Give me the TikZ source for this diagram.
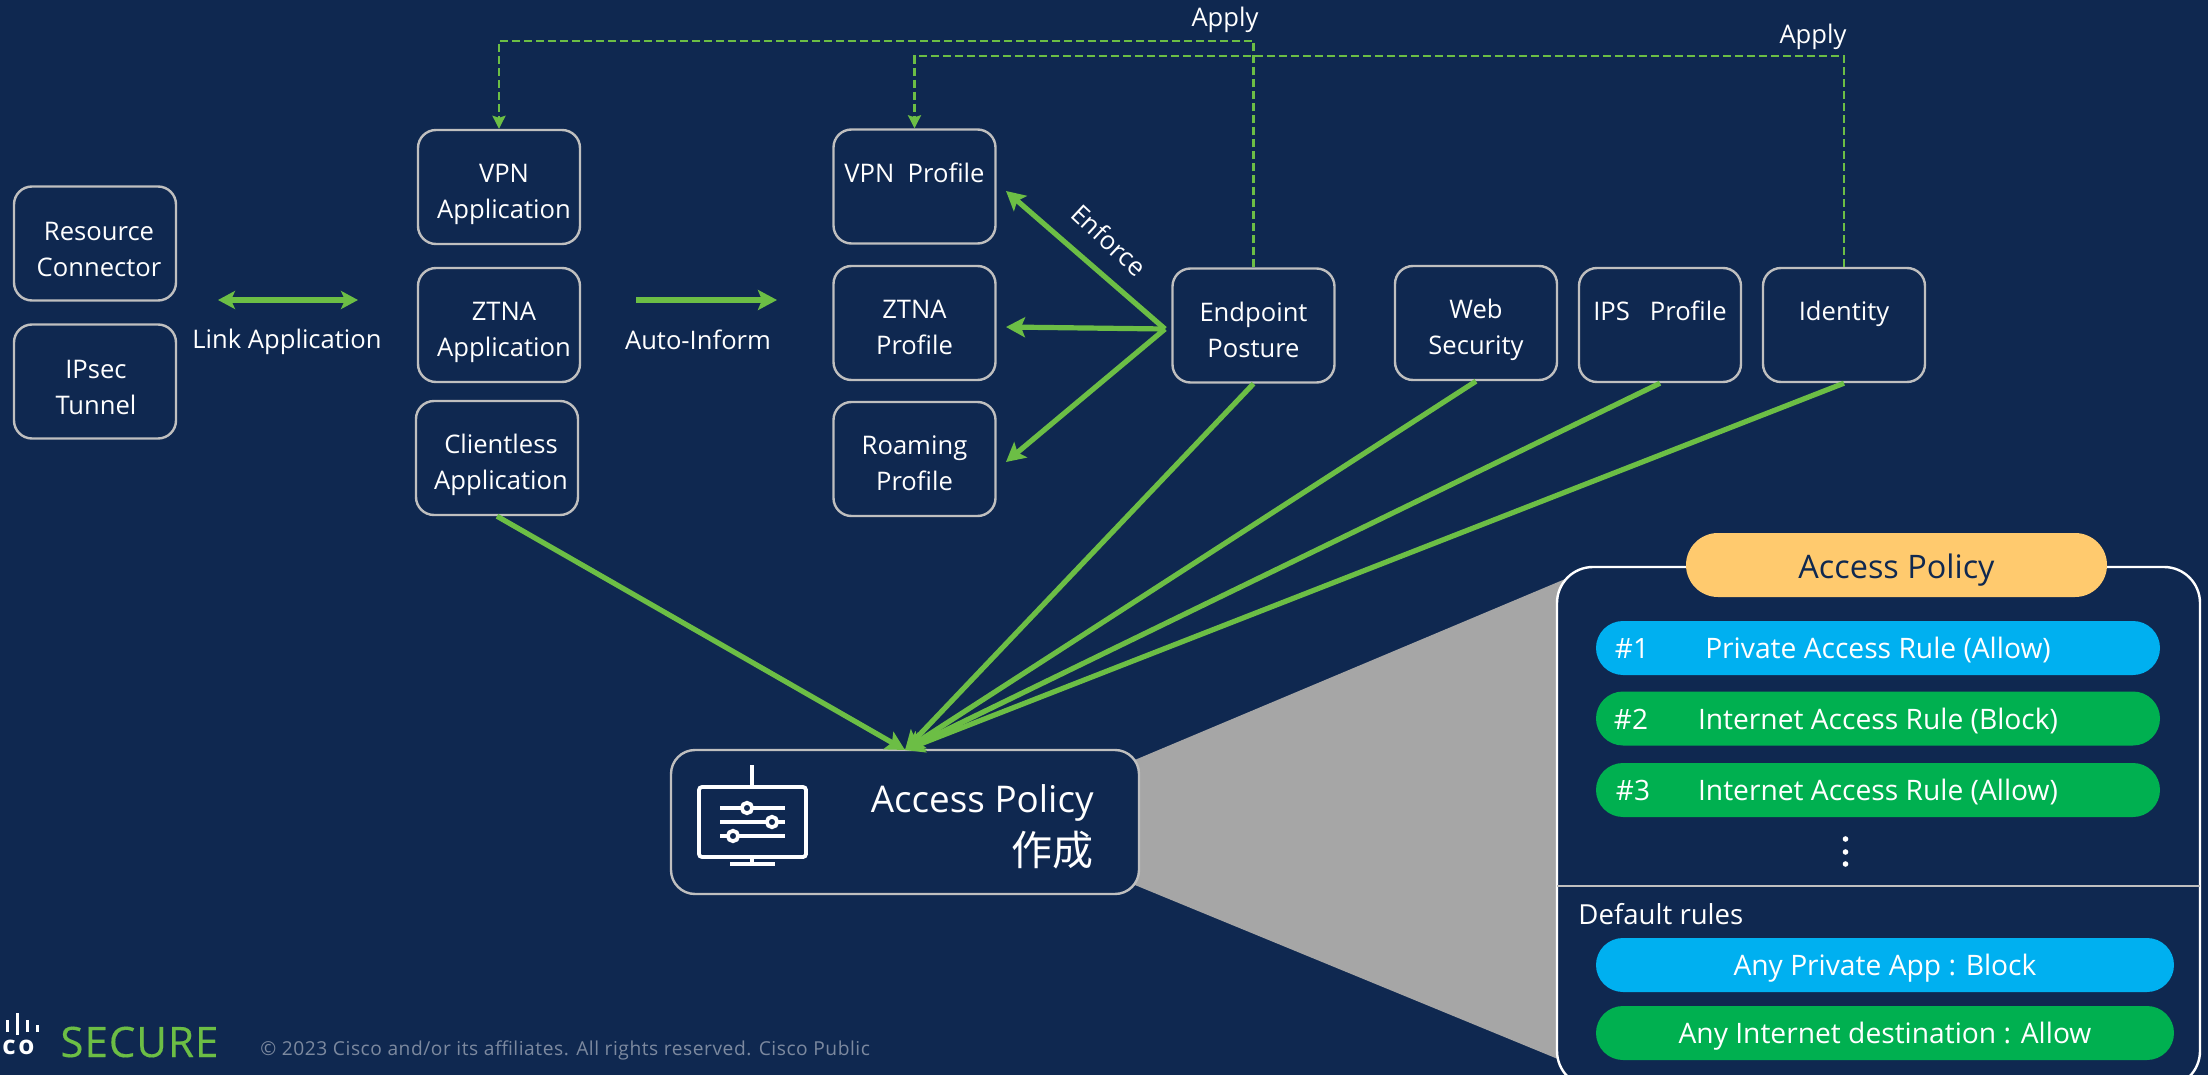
\documentclass[tikz,border=0pt]{standalone}
\usepackage{xcolor}
\usepackage{fontspec}
\setmainfont{Open Sans}
\newfontfamily\cjkfont{Noto Sans CJK JP}
\usetikzlibrary{arrows.meta}
\usetikzlibrary{positioning, calc}
\definecolor{slide blue}{HTML}{0F2850}
\definecolor{line green}{HTML}{6CBE45}
\definecolor{box gray}{HTML}{BFBFBF}
\definecolor{cone gray}{HTML}{A6A6A6}
\definecolor{rule blue}{HTML}{00B0F0}
\definecolor{rule green}{HTML}{00B050}
\definecolor{title yellow}{HTML}{FFCA6E}
\definecolor{note gray}{HTML}{7C899F}
\newcommand{\nudge}[1]{\hspace*{#1pt}}
\tikzset{
item box/.style = { rectangle, draw = box gray, fill = slide blue, line width = 1.2pt, text = white, align = center, minimum width = 81pt, minimum height = 57pt, rounded corners = 9pt, inner sep = 0pt, font = \fontsize{12.8}{18}\selectfont, execute at begin node = {\rule{0pt}{#1}} },
item box/.default = 32pt,
plain label/.style = { text = white, inner sep = 0pt, font = \fontsize{12.8}{18}\selectfont },
rule pill/.style = { rectangle, fill = #1, text = white, minimum height = 27pt, rounded corners = 13.5pt, inner sep = 0pt, text height = 12pt, text depth = 1.5pt, font = \fontsize{14.1}{18}\selectfont },
flow arrow/.style = { draw = line green, line width = 2.6pt, -{Stealth[length = 9.5pt, width = 10pt, inset = 2pt]} },
both arrow/.style = { draw = line green, line width = 2.6pt, {Stealth[length = 8.5pt, width = 9pt, inset = 2pt]}-{Stealth[length = 8.5pt, width = 9pt, inset = 2pt]} },
apply line/.style = { draw = line green, line width = 1.3pt, dash pattern = on 4pt off 2pt, -{Stealth[length = 6.5pt, width = 6.5pt, inset = 1pt]} },
icon line/.style = { draw = white, line width = 1.9pt },
}
\begin{document}
\begin{tikzpicture}[x = 0.5pt, y = -0.5pt]
    \useasboundingbox (0, 0) rectangle (2208, 1075);
    \clip (0, 0) rectangle (2208, 1075);
    \fill[slide blue] (0, 0) rectangle (2208, 1075);

    % left column
    \node[item box = 33pt] (resource) at (95, 243.5) {\nudge{4}Resource\\\nudge{4}Connector};
    \node[item box = 33pt] (ipsec) at (95, 381.5) {\nudge{1}IPsec\\\nudge{1}Tunnel};
    \node[item box = 34.5pt] (vpn app) at (499, 187) {\nudge{5}VPN\\\nudge{5}Application};
    \node[item box = 34.5pt] (ztna app) at (499, 325) {\nudge{5}ZTNA\\\nudge{5}Application};
    \node[item box = 34.5pt] (clientless app) at (497, 458) {\nudge{4}Clientless\\\nudge{4}Application};
    \node[item box] (vpn profile) at (914.5, 186.5) {VPN\ \ Profile\\~};
    \node[item box] (ztna profile) at (914.5, 323) {ZTNA\\Profile};
    \node[item box] (roaming profile) at (914.5, 459) {Roaming\\Profile};
    \node[item box] (endpoint) at (1253.5, 325.5) {Endpoint\\Posture};
    \node[item box = 34.5pt] (web security) at (1476, 323) {Web\\Security};
    \node[item box] (ips profile) at (1660, 325) {IPS\ \ \ Profile\\~};
    \node[item box] (identity) at (1844, 325) {Identity\\~};

    % gray cone goes under the two boxes
    \fill[cone gray] (1130, 762) -- (1570, 577) -- (1570, 1064) -- (1130, 883) -- cycle;

    \node[item box = 0pt, minimum width = 234pt, minimum height = 72pt, rounded corners = 12pt] (policy) at (905, 822) {};
    \node[plain label, anchor = east, font = \fontsize{18.4}{22}\selectfont] (policy title) at (1094, 803) {Access Policy};
    \node[plain label, anchor = east, font = \fontsize{20.5}{24}\cjkfont] (policy make) at (1094, 850) {作成};

    % monitor icon
    \draw[icon line, rounded corners = 1.5pt] (699, 787) rectangle (806, 857);
    \draw[icon line] (752, 765) -- (752, 787);
    \draw[icon line] (752, 857) -- (752, 864);
    \draw[icon line, line width = 2.4pt] (730, 864) -- (775, 864);
    \draw[icon line] (720, 808) -- (785, 808);
    \draw[icon line] (720, 822) -- (785, 822);
    \draw[icon line] (720, 836) -- (785, 836);
    \draw[icon line, fill = slide blue] (747, 808) circle (2.6pt);
    \draw[icon line, fill = slide blue] (772, 822) circle (2.6pt);
    \draw[icon line, fill = slide blue] (733, 836) circle (2.6pt);

    % link arrows
    \coordinate (link left) at (218, 300);
    \coordinate (link right) at (358, 300);
    \coordinate (inform left) at (636, 300);
    \coordinate (inform right) at (777, 300);
    \draw[both arrow] (link left) -- (link right);
    \draw[flow arrow] (inform left) -- (inform right);
    \node[plain label] (link label) at (287, 342) {Link Application};
    \node[plain label] (inform label) at (698, 340) {Auto-Inform};

    % enforce
    \coordinate (enforce hub) at (1165, 329);
    \coordinate (enforce vpn) at (1006, 191);
    \coordinate (enforce ztna) at (1006, 327);
    \coordinate (enforce roaming) at (1006, 462);
    \draw[flow arrow] (enforce hub) -- (enforce vpn);
    \draw[flow arrow] (enforce hub) -- (enforce ztna);
    \draw[flow arrow] (enforce hub) -- (enforce roaming);
    \node[plain label, rotate = -43] (enforce label) at (1109, 240) {Enforce};

    % into the policy box
    \coordinate (policy in) at (905, 750);
    \draw[flow arrow] (clientless app.south) -- (policy in);
    \draw[flow arrow] (endpoint.south) -- (policy in);
    \draw[flow arrow] (web security.south) -- (policy in);
    \draw[flow arrow] (ips profile.south) -- (policy in);
    \draw[flow arrow] (identity.south) -- (policy in);

    % apply lines
    \coordinate (apply one) at (499, 41);
    \coordinate (apply two) at (914.5, 56);
    \draw[apply line] (endpoint.north) |- (apply one) -- (vpn app.north);
    \draw[apply line] (identity.north) |- (apply two) -- (vpn profile.north);
    \node[plain label] (apply one label) at (1225, 20) {Apply};
    \node[plain label] (apply two label) at (1813, 37) {Apply};

    % policy panel
    \node[rectangle, draw = white, fill = slide blue, line width = 1.2pt, minimum width = 321.5pt, minimum height = 260pt, rounded corners = 18pt, inner sep = 0pt] (panel) at (1878.5, 827) {};
    \coordinate (panel left) at (1557, 886);
    \coordinate (panel right) at (2200, 886);
    \draw[draw = box gray, line width = 1.2pt] (panel left) -- (panel right);
    \node[rectangle, fill = title yellow, text = slide blue, minimum width = 210.5pt, minimum height = 32pt, rounded corners = 16pt, inner sep = 0pt, text height = 16pt, text depth = 2.5pt, font = \fontsize{16.2}{20}\selectfont] (panel title) at (1896.5, 565) {Access Policy};

    \node[rule pill = rule blue, minimum width = 282pt] (rule one) at (1878, 648) {Private Access Rule (Allow)};
    \node[rule pill = rule green, minimum width = 282pt] (rule two) at (1878, 718.5) {Internet Access Rule (Block)};
    \node[rule pill = rule green, minimum width = 282pt] (rule three) at (1878, 790) {Internet Access Rule (Allow)};
    \node[plain label, font = \fontsize{14}{18}\selectfont] (rule one no) at (1632, 649) {\#1};
    \node[plain label, font = \fontsize{14}{18}\selectfont] (rule two no) at (1631, 719) {\#2};
    \node[plain label, font = \fontsize{14}{18}\selectfont] (rule three no) at (1633, 790) {\#3};
    \fill[white] (1845.5, 839) circle (1.4pt);
    \fill[white] (1845.5, 852) circle (1.4pt);
    \fill[white] (1845.5, 864) circle (1.4pt);
    \node[plain label, anchor = west, font = \fontsize{13.8}{18}\selectfont] (default label) at (1578, 914) {Default rules};
    \node[rule pill = rule blue, minimum width = 289pt] (default one) at (1885, 965) {Any Private App : Block};
    \node[rule pill = rule green, minimum width = 289pt] (default two) at (1885, 1033) {Any Internet destination : Allow};

    % footer
    \fill[white] (6, 1020) rectangle (8.5, 1032);
    \fill[white] (16, 1013) rectangle (18.5, 1035);
    \fill[white] (26, 1020) rectangle (28.5, 1032);
    \fill[white] (36, 1025) rectangle (38.5, 1032);
    \node[anchor = west, text = white, inner sep = 0pt, font = \bfseries\fontsize{13}{13}\selectfont\addfontfeature{LetterSpace = 10}] (logo text) at (2, 1047) {co};
    \node[anchor = west, text = line green, inner sep = 0pt, font = \fontsize{21}{24}\selectfont\addfontfeature{LetterSpace = 2.5, FakeBold = 0.3}] (secure) at (60, 1042) {SECURE};
    \node[anchor = west, text = note gray, inner sep = 0pt, font = \fontsize{9.6}{11}\selectfont\addfontfeature{LetterSpace = 2.8}] (copyright) at (260, 1050) {© 2023 Cisco and/or its affiliates. All rights reserved. Cisco Public};
\end{tikzpicture}
\end{document}
